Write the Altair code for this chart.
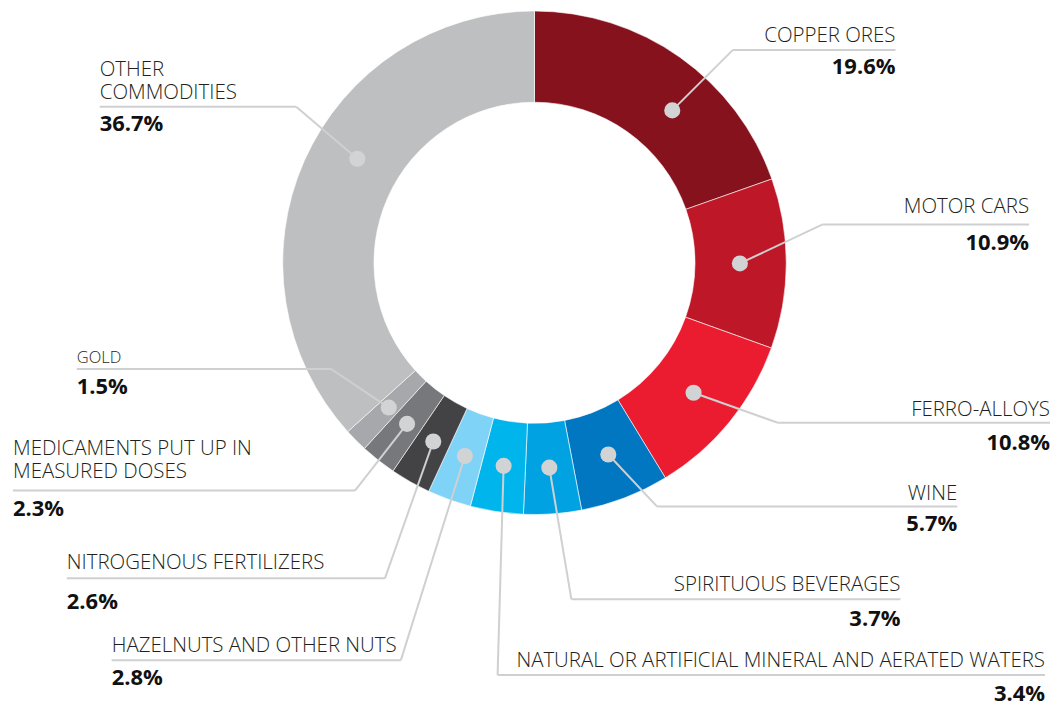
import altair as alt
import pandas as pd

# ---- data ----
categories = ["COPPER ORES", "MOTOR CARS", "FERRO-ALLOYS", "WINE", "SPIRITUOUS BEVERAGES",
              "NATURAL OR ARTIFICIAL MINERAL AND AERATED WATERS", "HAZELNUTS AND OTHER NUTS",
              "NITROGENOUS FERTILIZERS", "MEDICAMENTS PUT UP IN MEASURED DOSES", "GOLD",
              "OTHER COMMODITIES"]
label_lines = [["COPPER ORES"], ["MOTOR CARS"], ["FERRO-ALLOYS"], ["WINE"], ["SPIRITUOUS BEVERAGES"],
               ["NATURAL OR ARTIFICIAL MINERAL AND AERATED WATERS"], ["HAZELNUTS AND OTHER NUTS"],
               ["NITROGENOUS FERTILIZERS"], ["MEDICAMENTS PUT UP IN", "MEASURED DOSES"], ["GOLD"],
               ["OTHER", "COMMODITIES"]]
shares = [19.6, 10.9, 10.8, 5.7, 3.7, 3.4, 2.8, 2.6, 2.3, 1.5, 36.7]
pct_labels = ["19.6%", "10.9%", "10.8%", "5.7%", "3.7%", "3.4%", "2.8%", "2.6%", "2.3%", "1.5%", "36.7%"]

# ---- style / layout ----
colors = ["#86121E", "#BE1828", "#EC1C30", "#0077C0", "#00A2E1", "#00B5EC", "#7ED3F7",
          "#434345", "#77787B", "#A6A8AB", "#BEBFC1"]
label_side = ["R", "R", "R", "R", "R", "R", "L", "L", "L", "L", "L"]
line_y = [49, 224, 423, 507, 600, 676, 661, 579, 491, 369, 106]
line_x0 = [735, 825, 780, 659, 573, 499, 112, 67, 13, 77, 100]
line_x1 = [898, 1032, 1053, 960, 903, 1048, 402, 386, 356, 332, 297]
name_gap = [8, 11, 7, 7, 8, 8, 8, 9, 13, 6, 8]
pct_gap = [24, 26, 27, 25, 27, 26, 25, 31, 25, 25, 24]
name_size = [20.5, 20.5, 20.5, 20.5, 20.5, 20.5, 20.5, 20.5, 20.5, 16.5, 20.5]
dot_shift = [1.9, 0, 0, 0, 0, 0, 0, 0, 0, 0, 1.8]

CX, CY = 536, 262.5
R_OUT, R_IN, R_DOT = 252.5, 161, 206
W, H = 1045, 696
FONT = "Open Sans"

rows = []
for i, c in enumerate(categories):
    rows.append(dict(cat=c, value=shares[i], idx=i, pct=pct_labels[i], side=label_side[i],
                     ly=line_y[i], lx0=line_x0[i], lx1=line_x1[i], off=dot_shift[i],
                     py=line_y[i] + pct_gap[i]))
df = pd.DataFrame(rows)

name_rows = []
for i, lines in enumerate(label_lines):
    n = len(lines)
    for k, t in enumerate(lines):
        name_rows.append(dict(cat=categories[i], text=t, side=label_side[i],
                              ax=line_x1[i] if label_side[i] == "R" else line_x0[i],
                              ty=line_y[i] - name_gap[i] - (n - 1 - k) * 23,
                              fs=name_size[i]))
df_names = pd.DataFrame(name_rows)

xs = alt.Scale(domain=[8, 8 + W], nice=False, zero=False)
ys = alt.Scale(domain=[8 + H, 8], nice=False, zero=False)

base = alt.Chart(df)

arc = base.mark_arc(radius=R_OUT, radius2=R_IN, stroke="white", strokeWidth=0.6).encode(
    theta=alt.Theta("value:Q", stack=True),
    order=alt.Order("idx:Q"),
    color=alt.Color("cat:N", scale=alt.Scale(domain=categories, range=colors), legend=None),
    x=alt.value(CX - 8),
    y=alt.value(CY - 8),
)

dots_base = base.transform_window(
    cum="sum(value)", sort=[alt.SortField("idx")], frame=[None, 0]
).transform_calculate(
    ang="(datum.cum - datum.value/2 + datum.off) / 100 * 2 * PI",
    dx=f"{CX} + {R_DOT} * sin(datum.ang)",
    dy=f"{CY} - {R_DOT} * cos(datum.ang)",
    ex="datum.side == 'R' ? datum.lx0 : datum.lx1",
)

LINE_COLOR = "#CFD0D2"
leader = dots_base.mark_rule(color=LINE_COLOR, strokeWidth=2).encode(
    x=alt.X("dx:Q", scale=xs, axis=None),
    y=alt.Y("dy:Q", scale=ys, axis=None),
    x2="ex:Q",
    y2="ly:Q",
)

hline = base.mark_rule(color=LINE_COLOR, strokeWidth=2).encode(
    x=alt.X("lx0:Q", scale=xs, axis=None),
    x2="lx1:Q",
    y=alt.Y("ly:Q", scale=ys, axis=None),
)

dots = dots_base.mark_circle(size=260, color="#D1D3D4", opacity=1).encode(
    x=alt.X("dx:Q", scale=xs, axis=None),
    y=alt.Y("dy:Q", scale=ys, axis=None),
)

names_r = alt.Chart(df_names).transform_filter("datum.side == 'R'").mark_text(
    align="right", baseline="alphabetic", font=FONT, fontWeight=300, color="#231F20"
).encode(
    x=alt.X("ax:Q", scale=xs, axis=None),
    y=alt.Y("ty:Q", scale=ys, axis=None),
    text="text:N",
    size=alt.Size("fs:Q", scale=None),
)
names_l = alt.Chart(df_names).transform_filter("datum.side == 'L'").mark_text(
    align="left", baseline="alphabetic", font=FONT, fontWeight=300, color="#231F20"
).encode(
    x=alt.X("ax:Q", scale=xs, axis=None),
    y=alt.Y("ty:Q", scale=ys, axis=None),
    text="text:N",
    size=alt.Size("fs:Q", scale=None),
)

pct_r = base.transform_filter("datum.side == 'R'").mark_text(
    align="right", baseline="alphabetic", font=FONT, fontWeight="bold", fontSize=22, color="#111111"
).encode(
    x=alt.X("lx1:Q", scale=xs, axis=None),
    y=alt.Y("py:Q", scale=ys, axis=None),
    text="pct:N",
)
pct_l = base.transform_filter("datum.side == 'L'").mark_text(
    align="left", baseline="alphabetic", font=FONT, fontWeight="bold", fontSize=22, color="#111111"
).encode(
    x=alt.X("lx0:Q", scale=xs, axis=None),
    y=alt.Y("py:Q", scale=ys, axis=None),
    text="pct:N",
)

chart = alt.layer(arc, leader, hline, dots, names_r, names_l, pct_r, pct_l).properties(
    width=W, height=H, padding=0, background="white"
).configure_view(stroke=None)

chart.save("out.html", embed_options={"renderer": "svg", "actions": False})
